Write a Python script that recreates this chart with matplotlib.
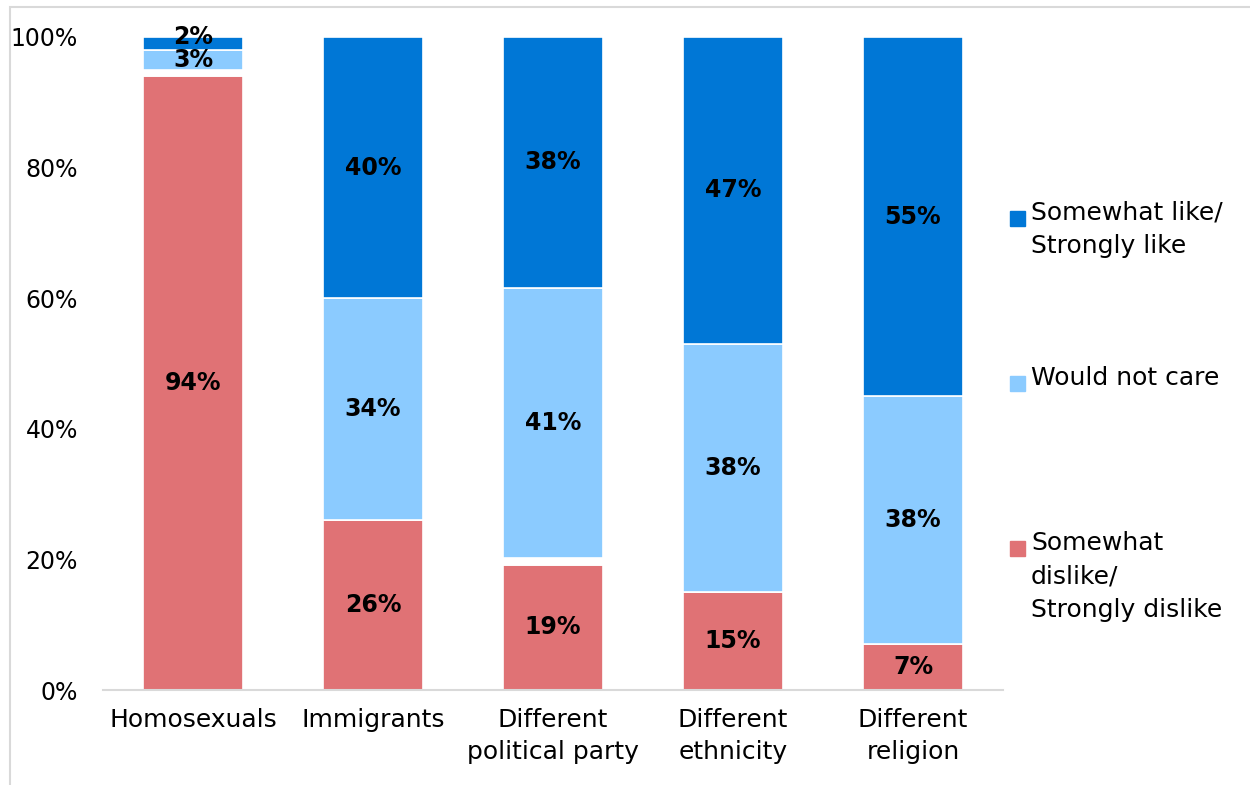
import numpy as np
import matplotlib.pyplot as plt
from matplotlib.patches import Rectangle

# 데이터
categories = ['Homosexuals', 'Immigrants', 'Different\npolitical party',
              'Different\nethnicity', 'Different\nreligion']
dislike = [94, 26, 19, 15, 7]      # Somewhat dislike / Strongly dislike
no_answer = [1, 0, 1, 0, 0]        # 응답 없음 (흰색, 범례 없음)
not_care = [3, 34, 41, 38, 38]     # Would not care
like = [2, 40, 38, 47, 55]         # Somewhat like / Strongly like

series = [dislike, no_answer, not_care, like]
colors = ['#E07275', 'white', '#8BCBFF', '#0077D6']
show_label = [True, False, True, True]

legend_names = ['Somewhat like/\nStrongly like', 'Would not care',
                'Somewhat\ndislike/\nStrongly dislike']
legend_colors = ['#0077D6', '#8BCBFF', '#E07275']

fig = plt.figure(figsize=(12.5, 7.85), dpi=100)
ax = fig.add_axes([103 / 1250, 95 / 785, 900 / 1250, 653 / 785])

x = np.arange(len(categories))
totals = np.sum(series, axis=0)
bottom = np.zeros(len(categories))
for vals, c, lab in zip(series, colors, show_label):
    share = np.array(vals) / totals * 100
    ax.bar(x, share, bottom=bottom, width=0.556, color=c,
           edgecolor='white', linewidth=1.2)
    if lab:
        for xi, b, s, v in zip(x, bottom, share, vals):
            # 아주 얇은 조각은 라벨을 위쪽 끝에 붙임
            yy = b + s if s < 2.5 else b + s / 2
            ax.text(xi, yy, f'{v}%', ha='center', va='center',
                    fontsize=17, fontweight='bold', color='black')
    bottom += share

ax.set_xlim(-0.5, len(categories) - 0.5)
ax.set_ylim(0, 100)
ax.set_yticks(np.arange(0, 101, 20))
ax.set_yticklabels([f'{v}%' for v in range(0, 101, 20)], fontsize=17)
ax.set_xticks(x)
ax.set_xticklabels(categories, fontsize=18, linespacing=1.4)
ax.tick_params(axis='y', length=0, pad=18)
ax.tick_params(axis='x', length=0, pad=13)
for side in ['top', 'right', 'left']:
    ax.spines[side].set_visible(False)
ax.spines['bottom'].set_color('#D9D9D9')
ax.spines['bottom'].set_linewidth(1.5)

# 범례 (네모 표시를 첫 줄에 맞춤)
legend_y = [218, 383, 548]
for name, c, yy in zip(legend_names, legend_colors, legend_y):
    fig.add_artist(Rectangle((1010 / 1250, 1 - (yy + 8) / 785), 15 / 1250, 15 / 785,
                             transform=fig.transFigure, color=c))
    fig.text(1031 / 1250, 1 - (yy - 17) / 785, name, ha='left', va='top',
             fontsize=18, linespacing=1.5)

# 바깥 테두리
fig.add_artist(Rectangle((10 / 1250, -0.1), 1.2, 1.1 - 7 / 785,
                         transform=fig.transFigure, fill=False,
                         edgecolor='#D9D9D9', linewidth=1.5))

plt.savefig('out.png', dpi=100)
